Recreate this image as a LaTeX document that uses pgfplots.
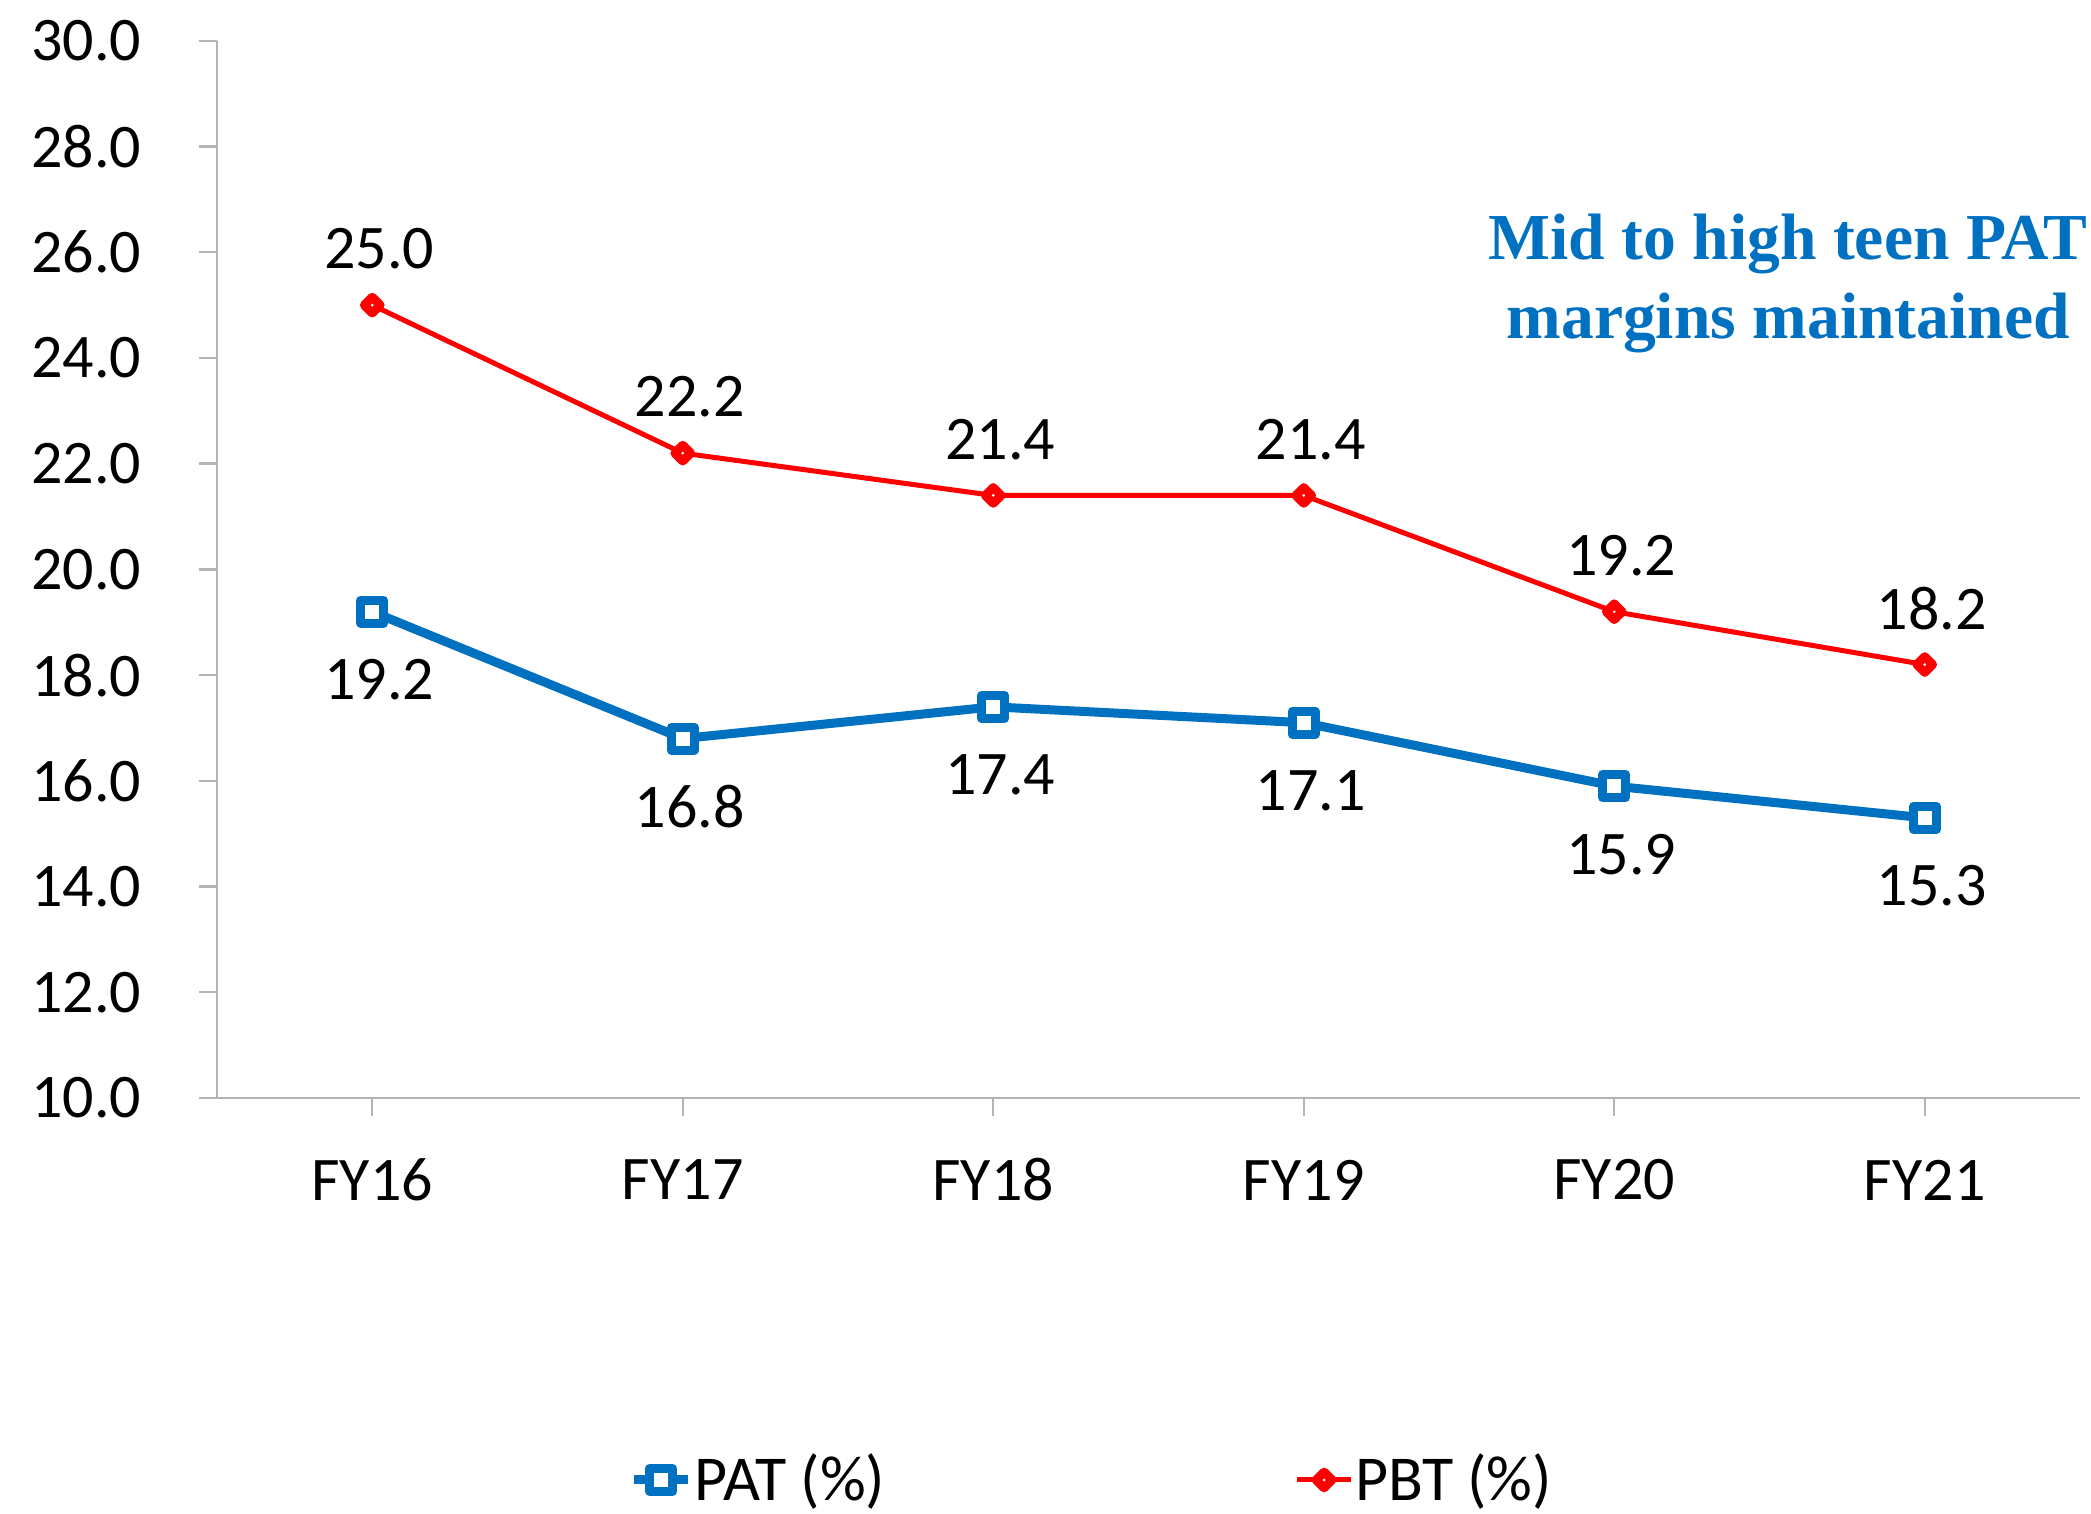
\documentclass[border=0pt]{standalone}
\usepackage{fontspec}
\setmainfont{Carlito}
\newfontfamily\titlefont{Liberation Serif}
\usepackage{pgfplots}
\pgfplotsset{compat=1.18}
\definecolor{patblue}{RGB}{0,112,192}
\definecolor{pbtred}{RGB}{255,0,0}
\definecolor{axgray}{RGB}{180,180,180}
\begin{document}
\begin{tikzpicture}
\path[use as bounding box] (-54.25pt,-103.75pt) rectangle (468.5pt,274.5pt);
\begin{axis}[
  at={(0,0)}, anchor=south west, scale only axis,
  width=465.75pt, height=264.3pt,
  xmin=-0.5, xmax=5.5, ymin=10, ymax=30,
  clip=false,
  axis x line*=bottom, axis y line*=left,
  axis line style={axgray, line width=0.6pt, -},
  tick style={axgray, line width=0.6pt},
  tick align=outside, major tick length=4.5pt,
  xtick={0,1,2,3,4,5}, xticklabels={FY16,FY17,FY18,FY19,FY20,FY21},
  ytick={10,12,14,16,18,20,22,24,26,28,30},
  yticklabel style={/pgf/number format/fixed, /pgf/number format/fixed zerofill,
     /pgf/number format/precision=1, /pgf/number format/assume math mode=true,
     anchor=east, inner sep=0pt, xshift=-14.25pt, font=\fontsize{15.5}{18}\selectfont},
  xticklabel style={anchor=center, inner sep=0pt, yshift=-16pt, font=\fontsize{15.5}{18}\selectfont},
  legend columns=2,
  legend style={at={(0.470,-0.3613)}, anchor=center, draw=none, fill=none, inner sep=0pt,
     /tikz/every even column/.append style={column sep=100pt},
     font=\fontsize{16}{18}\selectfont, nodes={inner sep=0.5pt}},
  legend image code/.code={\draw[mark repeat=2,mark phase=2] plot coordinates {(0pt,0pt)(6.75pt,0pt)(13.5pt,0pt)};},
]
\addplot[patblue, line width=2.25pt, mark=square*, mark size=2.875pt,
  mark options={fill=white, line width=2.25pt, line join=round},
  nodes near coords={\pgfmathprintnumber[fixed,fixed zerofill,precision=1,assume math mode=true]{\pgfplotspointmeta}},
  every node near coord/.append style={text=black, anchor=center, yshift=-17pt, xshift=1.75pt, font=\fontsize{15.5}{18}\selectfont}]
  coordinates {(0,19.2)(1,16.8)(2,17.4)(3,17.1)(4,15.9)(5,15.3)};
\addlegendentry{\makebox[49.5pt][l]{PAT (\%)}}
\addplot[pbtred, line width=1.25pt, mark=square*, mark size=1.4pt,
  mark options={fill=white, line width=2.2pt, rotate=45, line join=round},
  nodes near coords={\pgfmathprintnumber[fixed,fixed zerofill,precision=1,assume math mode=true]{\pgfplotspointmeta}},
  every node near coord/.append style={text=black, anchor=center, yshift=14pt, xshift=1.75pt, font=\fontsize{15.5}{18}\selectfont}]
  coordinates {(0,25.0)(1,22.2)(2,21.4)(3,21.4)(4,19.2)(5,18.2)};
\addlegendentry{\makebox[49.5pt][l]{PBT (\%)}}
\node[text=patblue, font=\titlefont\bfseries\fontsize{16.4}{19.75}\selectfont, align=center]
  at (axis cs:4.56,25.41) {Mid to high teen PAT\\margins maintained};
\end{axis}
\end{tikzpicture}
\end{document}
